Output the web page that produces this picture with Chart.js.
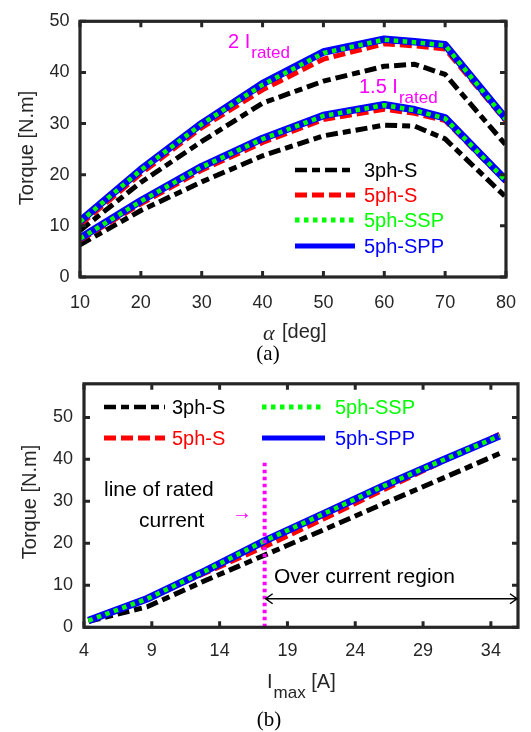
<!DOCTYPE html>
<html>
<head>
<meta charset="utf-8">
<script src="https://cdn.jsdelivr.net/npm/chart.js@4.4.1/dist/chart.umd.min.js"></script>
<style>
  body { margin: 0; background: #fff; width: 531px; height: 732px; position: relative; overflow: hidden; }
  .box { position: absolute; left: 0; width: 531px; }
  #boxA { top: 0; height: 345px; }
  #boxB { top: 362px; height: 340px; }
  .cap { position: absolute; font-family: "Liberation Serif", "Times New Roman", serif; font-size: 21px; color: #000; transform: translate(-50%, -50%); }
</style>
</head>
<body>
<div class="box" id="boxA"><canvas id="chartA"></canvas></div>
<div class="box" id="boxB"><canvas id="chartB"></canvas></div>
<div class="cap" style="left:268px;top:353px">(a)</div>
<div class="cap" style="left:269px;top:719px">(b)</div>

<script>
// ---- data (a): torque vs current angle ----
const alphaDeg = [10, 20, 30, 40, 50, 60, 65, 70, 80];
const tq2_3phS   = [9.1, 18.5, 26.5, 34.0, 38.3, 41.2, 41.6, 39.6, 25.8];
const tq2_5phS   = [10.2, 20.2, 29.2, 36.6, 42.6, 45.6, 45.2, 44.6, 30.5];
const tq2_5phSSP = [10.8, 20.9, 29.9, 37.6, 43.8, 46.4, 45.9, 45.3, 30.8];
const tq2_5phSPP = [10.9, 21.0, 30.0, 37.8, 44.0, 46.5, 46.0, 45.4, 30.9];
const tq15_3phS   = [6.3, 13.0, 18.6, 23.7, 27.6, 29.7, 29.5, 27.0, 15.6];
const tq15_5phS   = [7.2, 14.3, 20.9, 26.3, 30.8, 32.8, 32.0, 30.6, 18.6];
const tq15_5phSSP = [7.5, 14.8, 21.5, 27.0, 31.5, 33.6, 32.6, 31.0, 18.8];
const tq15_5phSPP = [7.6, 14.9, 21.6, 27.1, 31.6, 33.7, 32.7, 31.1, 18.9];
const xTicksA = [10, 20, 30, 40, 50, 60, 70, 80];
const yTicksA = [0, 10, 20, 30, 40, 50];

// ---- data (b): torque vs max current ----
const iMax = [4.33, 8.66, 12.99, 17.32, 21.65, 25.98, 30.31, 34.64];
const tqB_3phS   = [1.4, 4.9, 11.2, 17.2, 23.2, 29.3, 35.3, 41.4];
const tqB_5phS   = [1.7, 6.9, 13.0, 19.2, 25.8, 32.6, 39.3, 46.0];
const tqB_5phSSP = [1.6, 6.8, 13.5, 20.6, 27.0, 33.5, 39.6, 45.6];
const tqB_5phSPP = [1.6, 6.8, 13.5, 20.6, 27.0, 33.5, 39.6, 45.6];
const ratedCurrent = 17.32;
const ratedLineTop = 40;
const overArrowY = 6.8;
const xTicksB = [4, 9, 14, 19, 24, 29, 34];
const yTicksB = [0, 10, 20, 30, 40, 50];

const seriesNames = ["3ph-S", "5ph-S", "5ph-SSP", "5ph-SPP"];

// line styles per series
const styles = {
  "3ph-S":   { color: "#000000", width: 5, dash: [12, 5, 8, 5], order: 4, legendWidth: 4.5 },
  "5ph-S":   { color: "#ff0000", width: 5, dash: [12, 5], order: 3, legendWidth: 5 },
  "5ph-SSP": { color: "#00ff00", width: 4.5, dash: [4.5, 4.5], order: 1, legendWidth: 5 },
  "5ph-SPP": { color: "#0000ff", width: 7.5, dash: [], order: 2, legendWidth: 5 },
};

const SANS = '"Liberation Sans", Arial, sans-serif';
const SERIF = '"Liberation Serif", "Times New Roman", serif';
Chart.defaults.font.family = SANS;
Chart.defaults.font.size = 18;
Chart.defaults.color = "#262626";

function series(name, xs, ys) {
  const st = styles[name];
  return {
    label: name,
    data: xs.map((x, i) => ({ x: x, y: ys[i] })),
    borderColor: st.color,
    borderWidth: st.width,
    borderDash: st.dash,
    borderCapStyle: "butt",
    borderJoinStyle: "round",
    pointRadius: 0,
    fill: false,
    tension: 0,
    order: st.order,
  };
}

function fixedTicks(list) {
  return (s) => { s.ticks = list.map((v) => ({ value: v })); };
}

// box with inward ticks on all sides (matlab style)
const frame = {
  id: "frame",
  afterDatasetsDraw(chart) {
    const { ctx, chartArea: a, scales: { x, y } } = chart;
    ctx.save();
    ctx.strokeStyle = "#262626";
    ctx.lineWidth = 3;
    const tl = 6;
    ctx.beginPath();
    x.ticks.forEach((t) => {
      const px = x.getPixelForValue(t.value);
      ctx.moveTo(px, a.bottom); ctx.lineTo(px, a.bottom - tl);
      ctx.moveTo(px, a.top); ctx.lineTo(px, a.top + tl);
    });
    y.ticks.forEach((t) => {
      const py = y.getPixelForValue(t.value);
      ctx.moveTo(a.left, py); ctx.lineTo(a.left + tl, py);
      ctx.moveTo(a.right, py); ctx.lineTo(a.right - tl, py);
    });
    ctx.stroke();
    ctx.lineWidth = 3.2;
    ctx.strokeRect(a.left, a.top, a.width, a.height);
    ctx.restore();
  },
};

function legendItem(ctx, name, x0, x1, yy, tx) {
  const st = styles[name];
  ctx.save();
  ctx.strokeStyle = st.color;
  ctx.lineWidth = st.legendWidth;
  ctx.lineCap = "butt";
  ctx.setLineDash(st.dash);
  ctx.beginPath();
  ctx.moveTo(x0, yy); ctx.lineTo(x1, yy);
  ctx.stroke();
  ctx.setLineDash([]);
  ctx.fillStyle = st.color;
  ctx.font = "20px " + SANS;
  ctx.textAlign = "left";
  ctx.textBaseline = "middle";
  ctx.fillText(name, tx, yy + 1);
  ctx.restore();
}

function yTitle(ctx, cx, cy) {
  ctx.save();
  ctx.translate(cx, cy);
  ctx.rotate(-Math.PI / 2);
  ctx.fillStyle = "#262626";
  ctx.font = "20px " + SANS;
  ctx.textAlign = "center";
  ctx.textBaseline = "middle";
  ctx.fillText("Torque [N.m]", 0, 0);
  ctx.restore();
}

function subText(ctx, x, y, main, sub, color, after) {
  ctx.save();
  ctx.fillStyle = color;
  ctx.textAlign = "left";
  ctx.textBaseline = "alphabetic";
  ctx.font = "20px " + SANS;
  ctx.fillText(main, x, y);
  let w = ctx.measureText(main).width;
  ctx.font = "17px " + SANS;
  ctx.fillText(sub, x + w + 1, y + 10);
  w += ctx.measureText(sub).width + 1;
  if (after) {
    ctx.font = "20px " + SANS;
    ctx.fillText(after, x + w, y);
  }
  ctx.restore();
}

const textsA = {
  id: "textsA",
  afterDraw(chart) {
    const ctx = chart.ctx;
    yTitle(ctx, 27, 148);
    // x title
    ctx.save();
    ctx.fillStyle = "#262626";
    ctx.textBaseline = "middle";
    ctx.textAlign = "left";
    ctx.font = "italic 22px " + SERIF;
    ctx.fillText("α", 263, 334);
    ctx.font = "20px " + SANS;
    ctx.fillText("[deg]", 282, 332);
    ctx.restore();
    subText(ctx, 228, 48, "2 I", "rated", "#ff00ff");
    subText(ctx, 359, 93, "1.5 I", "rated", "#ff00ff");
    const rows = [170, 195, 220, 246];
    seriesNames.forEach((n, i) => legendItem(ctx, n, 295, 355, rows[i], 364));
  },
};

const textsB = {
  id: "textsB",
  afterDraw(chart) {
    const ctx = chart.ctx;
    const { chartArea: a, scales: { x, y } } = chart;
    yTitle(ctx, 30, 140);
    subText(ctx, 267, 326, "I", "max", "#262626", " [A]");
    legendItem(ctx, "3ph-S", 104, 165, 45, 172);
    legendItem(ctx, "5ph-S", 104, 165, 76, 172);
    legendItem(ctx, "5ph-SSP", 262, 325, 45, 335);
    legendItem(ctx, "5ph-SPP", 262, 325, 76, 335);
    ctx.save();
    ctx.fillStyle = "#000";
    ctx.font = "21px " + SANS;
    ctx.textBaseline = "middle";
    ctx.textAlign = "left";
    ctx.fillText("line of rated", 104, 128);
    ctx.fillText("current", 139, 159);
    ctx.fillText("Over current region", 274, 215);
    ctx.fillStyle = "#ff00ff";
    ctx.font = "20px " + SERIF;
    ctx.fillText("→", 232, 152);
    // double arrow over-current region
    const xa = x.getPixelForValue(ratedCurrent) + 1;
    const xb = a.right - 1;
    const ya = y.getPixelForValue(overArrowY);
    ctx.strokeStyle = "#000";
    ctx.lineWidth = 1.5;
    ctx.beginPath();
    ctx.moveTo(xa, ya); ctx.lineTo(xb, ya);
    ctx.moveTo(xa + 7, ya - 5); ctx.lineTo(xa, ya); ctx.lineTo(xa + 7, ya + 5);
    ctx.moveTo(xb - 7, ya - 5); ctx.lineTo(xb, ya); ctx.lineTo(xb - 7, ya + 5);
    ctx.stroke();
    ctx.restore();
  },
};

function baseOptions(xMin, xMax, yMax, xT, yT, yW, xH, pad, xPad, yPad) {
  return {
    responsive: true,
    maintainAspectRatio: false,
    animation: false,
    events: [],
    layout: { padding: pad },
    plugins: { legend: { display: false }, tooltip: { enabled: false } },
    scales: {
      x: {
        type: "linear", min: xMin, max: xMax,
        afterBuildTicks: fixedTicks(xT),
        afterFit: (s) => { s.height = xH; },
        grid: { display: false, drawTicks: false },
        border: { display: false },
        ticks: { padding: xPad, maxRotation: 0, autoSkip: false, color: "#262626" },
      },
      y: {
        type: "linear", min: 0, max: yMax,
        afterBuildTicks: fixedTicks(yT),
        afterFit: (s) => { s.width = yW; },
        grid: { display: false, drawTicks: false },
        border: { display: false },
        ticks: { padding: yPad, color: "#262626" },
      },
    },
  };
}

new Chart(document.getElementById("chartA"), {
  type: "line",
  data: {
    datasets: [
      series("3ph-S", alphaDeg, tq2_3phS),
      series("5ph-S", alphaDeg, tq2_5phS),
      series("5ph-SSP", alphaDeg, tq2_5phSSP),
      series("5ph-SPP", alphaDeg, tq2_5phSPP),
      series("3ph-S", alphaDeg, tq15_3phS),
      series("5ph-S", alphaDeg, tq15_5phS),
      series("5ph-SSP", alphaDeg, tq15_5phSSP),
      series("5ph-SPP", alphaDeg, tq15_5phSPP),
    ],
  },
  options: baseOptions(10, 80, 50, xTicksA, yTicksA, 80, 68,
    { top: 19.5, right: 19.3, left: 0, bottom: 0 }, 15, 10.5),
  plugins: [frame, textsA],
});

const ratedLine = {
  label: "rated",
  data: [{ x: ratedCurrent, y: 0 }, { x: ratedCurrent, y: ratedLineTop }],
  borderColor: "#ff00ff",
  borderWidth: 4,
  borderDash: [3.5, 3.5],
  borderCapStyle: "butt",
  pointRadius: 0,
  order: 0,
};

new Chart(document.getElementById("chartB"), {
  type: "line",
  data: {
    datasets: [
      series("3ph-S", iMax, tqB_3phS),
      series("5ph-S", iMax, tqB_5phS),
      series("5ph-SSP", iMax, tqB_5phSSP),
      series("5ph-SPP", iMax, tqB_5phSPP),
      ratedLine,
    ],
  },
  options: baseOptions(4, 36, 58, xTicksB, yTicksB, 84, 74.7,
    { top: 13, right: 13, left: 0, bottom: 0 }, 13, 11),
  plugins: [frame, textsB],
});
</script>
</body>
</html>
